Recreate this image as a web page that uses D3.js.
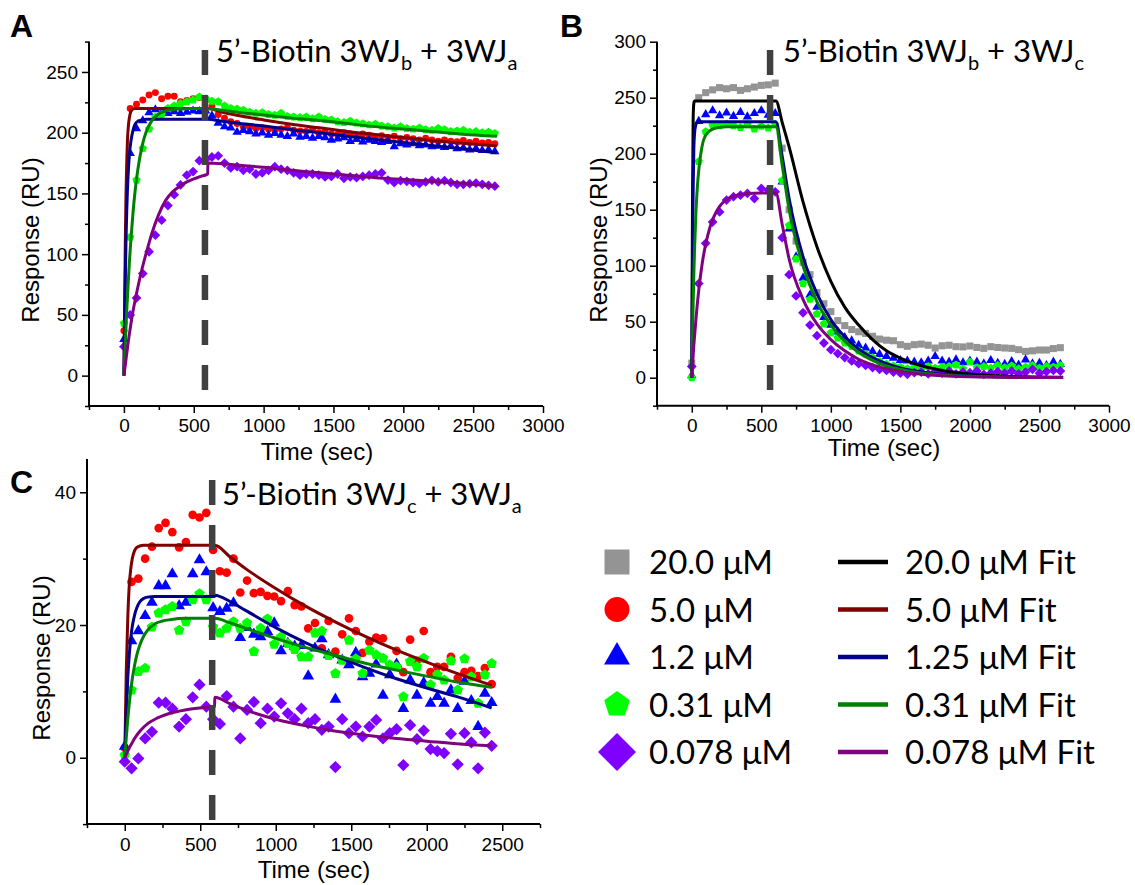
<!DOCTYPE html>
<html>
<head>
<meta charset="utf-8">
<script src="https://cdn.jsdelivr.net/npm/d3@7"></script>
<style>
  body { margin: 0; background: #fff; }
  svg { display: block; }
  text { white-space: pre; }
</style>
</head>
<body>
<script>

// ---------- data ----------

// sample times (sec)
const timeA = [0,45,90,135,180,225,270,315,360,405,450,495,540,585,630,675,720,765,810,855,900,945,990,1035,1080,1125,1170,1215,1260,1305,1350,1395,1440,1485,1530,1575,1620,1665,1710,1755,1800,1845,1890,1935,1980,2025,2070,2115,2160,2205,2250,2295,2340,2385,2430,2475,2520,2565,2610,2655]
const timeB = [0,50,100,150,200,250,300,350,400,450,500,550,600,650,700,750,800,850,900,950,1000,1050,1100,1150,1200,1250,1300,1350,1400,1450,1500,1550,1600,1650,1700,1750,1800,1850,1900,1950,2000,2050,2100,2150,2200,2250,2300,2350,2400,2450,2500,2550,2600,2650]
const timeC = [0,45,90,135,180,225,270,315,360,405,450,495,540,585,630,675,720,765,810,855,900,945,990,1035,1080,1125,1170,1215,1260,1305,1350,1395,1440,1485,1530,1575,1620,1665,1710,1755,1800,1845,1890,1935,1980,2025,2070,2115,2160,2205,2250,2295,2340,2385,2430]

// panel A responses (RU)
const redA = [37,220,223.5,227,231,233,228,230,230,225.5,226.5,228,229,226.5,222,215,212,209,207.5,205,204.5,203.5,204,203,202,203,204,202,201.5,201,202.5,200,200.5,199,198.5,200,199,198,199,198,196.5,197.5,196,197,195,196,195,194,195.5,194,193,194,193,192.5,193.5,192,193,191.5,192,191]
const blueA = [30,183,203.5,210,216.5,219,217,216,217.5,216,217,218,217.5,218,214,208,205,204,200.5,202,201,199,200,198,199.5,198,197,199,196.5,197,195.5,197,196,194,195,196,193,194.5,192.5,194,193,192,193,188.5,191,190,191,189.5,190,188.5,189,188,189,187,187.5,186,187,185.5,186,184.5]
const greenA = [43,114,161,187,203,213,215,220,222,224,225.5,227,229.5,228,226,225.5,222,220,219.5,218.5,217,216,216.5,215,214.5,216,213.5,213,212.5,213,211.5,213,211,210.5,209,208.5,209.5,208,207.5,206.5,207,205.5,205,204,205,203.5,203,204,202.5,202,203.5,202.5,201,201.5,202,200.5,201,200,200.5,199.5]
const purpleA = [23.8,50,64,84,102,115.6,128,140,149,157,165,168,177,178,180,181,175,171,172,169,170,166,167,169,172,170,169,167,165,166,166,165,163.6,164,166,162.5,163.6,163,164,165,166,167,161,159,160.5,160,159,158,159.5,160.8,159.5,160.5,159,157.5,157.5,158,158.5,157.5,156.7,156]

// panel B responses (RU)
const grayB = [13,250,254.5,257,259,258,259,256.5,258,259.5,261,261.5,263,205,150,122,103,92,76,66,59,51,46.5,43,41,39.5,37,34.5,33.5,33,29.5,28,29.5,30,29,26.5,28.5,29,27.7,27.5,28.3,27,26.2,27.7,27,26.5,26.2,25,23.5,24,24.7,24.7,26,26.8]
const blueB = [2,229,235,238.5,234,236.5,233.5,237,233,236,238.5,234.5,236,175,133,108,89,74,63,54,47,41,36,33,29,26.5,23.5,21,19,17.5,15.5,15,14,13.5,15,19,15,14,16,13.5,15,14,12.5,15.5,13,12,14.5,11.5,16,12.5,13,11,14,12]
const greenB = [0,193,219.6,225.6,225,226.5,225,223.5,226,222,224.5,223,226,176,136,106,84,70,57,48,40,35.5,31,28,24,21,18,14.5,12,10.5,9.5,8,9,7.5,10,8.5,9.5,10,11.5,8,14,9,10,8.5,11,9,10.5,8,9.5,11,8.5,10,9.5,11]
const purpleB = [10,84,120,139,148,158.6,161.6,163,164.5,160,169,167.6,166,125,92,73,58,47,37.5,31,25,21.5,18,15,12.5,11,9,7.5,6.5,5,4,3,4.5,5,3.5,5.5,4,6,3.5,5,4.5,6,3,4,5.5,4,6,3.5,5,7.5,4,5.5,6.5,6]

// panel C responses (RU)
const redC = [1.5,26.5,27,30,31.8,34.6,35.4,34,31.7,32.5,36.6,36.2,36.9,31.3,28.1,27.9,30,24.9,26.7,24.8,25,24.4,24.3,23.6,25.1,23,22.8,19.5,20.3,16.5,20.6,16,18.6,21,19.1,15.8,17.5,18.1,18,null,16.1,12.9,17.8,14.6,19.1,12.9,13.7,13.7,15.2,12,12.9,13.1,12.3,13.5,11.1]
const blueC = [1.7,17.6,19.1,21.4,23.4,25.9,25.9,27.7,22.9,23.4,27.7,29.8,28,22.6,22,22.5,23.3,18.1,19.6,18.6,18.2,19,20.3,16.1,17.2,16.8,16.9,12.3,16.5,17.9,15.5,8.8,14.7,14,15.8,12.2,12.7,14.1,9.4,12.5,14.1,7.4,11.7,9.4,11.3,8.2,9.2,8.2,10.2,7.4,11.5,8.6,4.7,9.7,8.3]
const greenC = [0.4,10.2,13,13.5,19.7,21.8,22.3,22.8,19.2,20.5,23.8,24.7,23.8,19.7,18.8,19.5,20.5,19.5,20.3,16,19.5,20.9,17.1,18.2,17.2,16.3,15.2,15.2,18.8,19.1,15.4,12.7,14.7,17.7,14.9,12.7,16.2,15.5,15,14,13.7,9.2,14.5,13.7,15,11,12.5,11.7,14.6,10.2,14.9,12.2,8.2,12.5,14.2]
const purpleC = [-0.6,-1.6,-0.1,2.9,3.9,8.3,8.3,7.4,4.7,5.8,9.1,11,7.7,5.8,5.1,9.3,7.7,2.9,7.2,8.4,5.2,7.4,6.2,8.2,6.7,5.8,7.4,5.2,5.8,4.2,4.7,-1.4,5.8,3.7,4.7,3.2,4.7,5.7,2.9,3.7,4.3,-1.1,4.9,2.8,4.1,1.3,1,0.7,3.6,-1,3.7,2.3,-1.6,3.8,1.8]

// fitted curves
const fitTimeA = [0,5,10,15,20,25,30,40,50,65,80,100,130,160,200,250,300,350,400,450,500,550,600,601,700,800,1000,1200,1400,1600,1800,2000,2200,2400,2670]
const fitRedA = [0,60,110,150,175,193,203,213,217.5,219.5,220,220,220,220,220,220,220,220,220,220,220,220,220,220,217,214.5,210.5,207,204,201,198.5,196,193.5,191.5,189]
const fitBlueA = [0,40,80,112,135,152,165,183,193,202,207,209.5,210.5,211,211,211,211,211,211,211,211,211,211,211,209.5,208,205.5,202.5,200,197,194.5,192,189.5,187,183.5]
const fitGreenA = [0,14,28,41,53,64,75,95,112,134,152,170,189,201,210,215.5,218,219,219.5,219.8,220,220,220,220,218.5,217,214.5,212,210,207.5,205,203,201,199,197]
const fitPurpleA = [0,4.5,9,13.5,18,22.5,27,35,42.5,53,62,73,88,101,117,133,144.5,151.5,156,159.5,162,164,166,175,174.5,173.5,171.5,169,167,165,163,161.5,160,158.5,156]

const fitTimeB = [0,5,10,15,20,30,40,50,65,80,100,130,160,200,250,300,400,500,605,650,700,800,900,1000,1100,1200,1300,1400,1500,1600,1800,2000,2200,2400,2670]
const fitBlackB = [0,150,232,245,247,247,247,247,247,247,247,247,247,247,247,247,247,247,247,228,206,157,117,86,63,47,34,24,17.5,12.5,6.5,3.3,1.7,0.8,0.3]
const fitBlueB = [0,100,170,205,218,226,228,228.5,228.6,228.6,228.6,228.6,228.6,228.6,228.6,228.6,228.6,228.6,228.6,198,160,108,75,52,36.5,25.5,18,12.5,8.8,6.2,3,1.5,0.8,0.4,0.2]
const fitGreenB = [0,35,66,93,115,148,170,185,200,210,216.5,220.5,222.5,223.5,224,224,224,224,224,190,150,100,68,47,32.5,22.5,15.5,10.5,7.5,5,2.4,1.2,0.6,0.3,0.1]
const fitPurpleB = [0,10,20,29,37,52,66,78,93,106,119,134,144,153,159,162,164.5,165,165,137,106,70,48,34,24,16.5,11.5,8,5.5,3.8,1.8,0.9,0.5,0.2,0.1]

const fitTimeC = [0,10,20,30,40,50,65,80,100,125,150,200,250,300,400,500,595,596,700,800,1000,1200,1400,1600,1800,2000,2200,2430]
const fitRedC = [0,13,21,26,28.5,30,31.2,31.7,31.9,32,32,32,32,32,32,32,32,32,30.2,28.5,25.5,22.8,20.4,18.2,16.2,14.4,12.7,10.9]
const fitBlueC = [0,7,12,15.5,18,19.8,21.5,22.6,23.5,24,24.2,24.3,24.3,24.3,24.3,24.3,24.3,24.5,23.5,22.2,19.6,17.3,15.3,13.5,11.9,10.5,9.2,7.5]
const fitGreenC = [0,3,5.8,8.2,10.2,11.9,13.9,15.5,17,18.3,19.2,20.2,20.6,20.8,21,21,21,21,20.3,19.5,18,16.6,15.4,14.2,13.2,12.3,11.4,10.6]
const fitPurpleC = [0,0.5,1,1.5,1.9,2.3,2.9,3.4,4,4.6,5.1,5.8,6.3,6.7,7.2,7.5,7.7,9.1,8.1,7.2,5.8,4.8,4,3.4,2.9,2.5,2.1,1.8]

// injection end (dashed line), sec
const dashA = 580
const dashB = 563
const dashC = 579

// ticks
const xTicksAB = [0,500,1000,1500,2000,2500,3000]
const xMinorAB = [-250,250,750,1250,1750,2250,2750]
const xTicksC = [0,500,1000,1500,2000,2500]
const xMinorC = [-250,250,750,1250,1750,2250,2750]
const yTicksA = [0,50,100,150,200,250]
const yMinorA = [-25,25,75,125,175,225,275]
const yTicksB = [0,50,100,150,200,250,300]
const yMinorB = [-25,25,75,125,175,225,275]
const yTicksC = [0,20,40]
const yMinorC = [-10,10,30]

// legend
const concLabels = ['20.0 μM','5.0 μM','1.2 μM','0.31 μM','0.078 μM']
const fitLabels = ['20.0 μM Fit','5.0 μM Fit','1.25 μM Fit','0.31 μM Fit','0.078 μM Fit']
const seriesKeys = ['gray','red','blue','green','purple']

// ---------- drawing ----------

const m = {
    width: 1135,
    height: 885
}

const axisFont = "'Liberation Sans', Arial, sans-serif"
const textFont = "Lato, Carlito, Calibri, sans-serif"

const symbolPentagon = {
    draw(context, size) {
        const r = Math.sqrt(size / 2.3776)
        for (let k = 0; k < 5; k++) {
            const a = -Math.PI / 2 + k * 2 * Math.PI / 5
            if (k === 0) context.moveTo(r * Math.cos(a), r * Math.sin(a))
            else context.lineTo(r * Math.cos(a), r * Math.sin(a))
        }
        context.closePath()
    }
}

const symbolRhombus = {
    draw(context, size) {
        const r = Math.sqrt(size / 2)
        context.moveTo(0, -r)
        context.lineTo(r, 0)
        context.lineTo(0, r)
        context.lineTo(-r, 0)
        context.closePath()
    }
}

const style = {
    gray:   { color: '#949494', fit: '#000000', symbol: d3.symbolSquare,   size: 50 },
    red:    { color: '#ff0000', fit: '#800000', symbol: d3.symbolCircle,   size: 38 },
    blue:   { color: '#0000ff', fit: '#00008b', symbol: d3.symbolTriangle, size: 38 },
    green:  { color: '#00ff00', fit: '#008000', symbol: symbolPentagon,    size: 46 },
    purple: { color: '#8000ff', fit: '#800080', symbol: symbolRhombus,     size: 48 }
}

const panels = [
    {
        label: 'A', labelPos: [10, 37],
        xDomain: [-250, 3000], xRange: [89, 543],
        yDomain: [-25, 275], yRange: [406, 41.6],
        xTicks: xTicksAB, xMinor: xMinorAB, yTicks: yTicksA, yMinor: yMinorA,
        time: timeA,
        data: [['red', redA], ['blue', blueA], ['green', greenA], ['purple', purpleA]],
        fitTime: fitTimeA,
        fits: [['red', fitRedA], ['blue', fitBlueA], ['green', fitGreenA], ['purple', fitPurpleA]],
        dash: dashA, dashY: [50, 395],
        sub: ['b', 'a'], titlePos: [216, 62],
        xTitle: [317, 460], yTitle: [30, 240],
        markerScale: 1
    },
    {
        label: 'B', labelPos: [560, 37],
        xDomain: [-250, 3000], xRange: [657, 1109],
        yDomain: [-25, 300], yRange: [405.7, 41.7],
        xTicks: xTicksAB, xMinor: xMinorAB, yTicks: yTicksB, yMinor: yMinorB,
        time: timeB,
        data: [['gray', grayB], ['blue', blueB], ['green', greenB], ['purple', purpleB]],
        fitTime: fitTimeB,
        fits: [['gray', fitBlackB], ['blue', fitBlueB], ['green', fitGreenB], ['purple', fitPurpleB]],
        dash: dashB, dashY: [50, 395],
        sub: ['b', 'c'], titlePos: [783, 62],
        xTitle: [884, 456], yTitle: [598, 240],
        markerScale: 1
    },
    {
        label: 'C', labelPos: [10, 493],
        xDomain: [-250, 2750], xRange: [87, 540],
        yDomain: [-10, 45], yRange: [824.1, 459.1],
        xTicks: xTicksC, xMinor: xMinorC, yTicks: yTicksC, yMinor: yMinorC,
        time: timeC,
        data: [['red', redC], ['blue', blueC], ['green', greenC], ['purple', purpleC]],
        fitTime: fitTimeC,
        fits: [['red', fitRedC], ['blue', fitBlueC], ['green', fitGreenC], ['purple', fitPurpleC]],
        dash: dashC, dashY: [480, 824],
        sub: ['c', 'a'], titlePos: [222, 505],
        xTitle: [314, 878], yTitle: [41, 658],
        markerScale: 1.25
    }
]

const svg = d3.select('body').append('svg')
    .attr('width', m.width)
    .attr('height', m.height)

svg.append('rect').attr('width', m.width).attr('height', m.height).attr('fill', '#fff')

function styleAxis(sel) {
    sel.selectAll('line').attr('stroke', '#000').attr('stroke-width', 1.5)
    sel.selectAll('text')
        .attr('fill', '#000')
        .style('font-family', axisFont)
        .style('font-size', '19px')
}

panels.forEach(function(p) {
    const x = d3.scaleLinear().domain(p.xDomain).range(p.xRange)
    const y = d3.scaleLinear().domain(p.yDomain).range(p.yRange)
    const g = svg.append('g')

    // minor ticks
    g.append('g')
        .attr('transform', `translate(0,${p.yRange[0]})`)
        .call(d3.axisBottom(x).tickValues(p.xMinor).tickFormat('').tickSize(4).tickSizeOuter(0))
        .call(s => s.select('.domain').remove())
        .call(styleAxis)
    g.append('g')
        .attr('transform', `translate(${p.xRange[0]},0)`)
        .call(d3.axisLeft(y).tickValues(p.yMinor).tickFormat('').tickSize(4).tickSizeOuter(0))
        .call(s => s.select('.domain').remove())
        .call(styleAxis)

    // major ticks + labels
    g.append('g')
        .attr('transform', `translate(0,${p.yRange[0]})`)
        .call(d3.axisBottom(x).tickValues(p.xTicks).tickFormat(d3.format('d')).tickSize(7).tickPadding(6).tickSizeOuter(0))
        .call(s => s.select('.domain').remove())
        .call(styleAxis)
    g.append('g')
        .attr('transform', `translate(${p.xRange[0]},0)`)
        .call(d3.axisLeft(y).tickValues(p.yTicks).tickFormat(d3.format('d')).tickSize(7).tickPadding(4).tickSizeOuter(0))
        .call(s => s.select('.domain').remove())
        .call(styleAxis)

    // axis lines
    g.append('line')
        .attr('x1', p.xRange[0]).attr('x2', p.xRange[1])
        .attr('y1', p.yRange[0]).attr('y2', p.yRange[0])
        .attr('stroke', '#000').attr('stroke-width', 2)
    g.append('line')
        .attr('x1', p.xRange[0]).attr('x2', p.xRange[0])
        .attr('y1', p.yRange[0] + 1).attr('y2', p.yRange[1])
        .attr('stroke', '#000').attr('stroke-width', 2)

    // data points
    p.data.forEach(function([key, vals]) {
        const st = style[key]
        const pts = p.time.map((t, i) => ({ t: t, v: vals[i] })).filter(d => d.v != null)
        g.append('g').selectAll('path')
            .data(pts)
            .enter()
            .append('path')
                .attr('d', d3.symbol().type(st.symbol).size(st.size * p.markerScale * p.markerScale))
                .attr('transform', d => `translate(${x(d.t)},${y(d.v)})`)
                .attr('fill', st.color)
    })

    // fits
    const line = d3.line()
        .x((d, i) => x(p.fitTime[i]))
        .y(d => y(d))
        .curve(d3.curveMonotoneX)
    p.fits.forEach(function([key, vals]) {
        g.append('path')
            .attr('d', line(vals))
            .attr('fill', 'none')
            .attr('stroke', style[key].fit)
            .attr('stroke-width', 3)
    })

    // injection end
    g.append('line')
        .attr('x1', x(p.dash)).attr('x2', x(p.dash))
        .attr('y1', p.dashY[0]).attr('y2', p.dashY[1])
        .attr('stroke', '#404040')
        .attr('stroke-width', 6.5)
        .attr('stroke-dasharray', '25,20')

    // titles
    const t = g.append('text')
        .attr('x', p.titlePos[0]).attr('y', p.titlePos[1])
        .style('font-family', textFont)
        .style('font-size', '31px')
        .attr('fill', '#000')
    t.append('tspan').text('5’-Biotin 3WJ')
    t.append('tspan').text(p.sub[0]).attr('dy', 8).style('font-size', '20px')
    t.append('tspan').text(' + 3WJ').attr('dy', -8)
    t.append('tspan').text(p.sub[1]).attr('dy', 8).style('font-size', '20px')

    g.append('text')
        .attr('x', p.labelPos[0]).attr('y', p.labelPos[1])
        .style('font-family', axisFont)
        .style('font-size', '32px')
        .style('font-weight', 'bold')
        .text(p.label)

    g.append('text')
        .attr('x', p.xTitle[0]).attr('y', p.xTitle[1])
        .attr('text-anchor', 'middle')
        .style('font-family', axisFont)
        .style('font-size', '24px')
        .text('Time (sec)')

    g.append('text')
        .attr('transform', `translate(${p.yTitle[0]},${p.yTitle[1]}) rotate(-90)`)
        .attr('text-anchor', 'middle')
        .attr('dominant-baseline', 'central')
        .style('font-family', axisFont)
        .style('font-size', '24px')
        .text('Response (RU)')
})

// legend
const lg = svg.append('g')
const legendSize = { gray: 625, red: 490, blue: 290, green: 430, purple: 720 }
seriesKeys.forEach(function(key, i) {
    const yy = 562 + i * 47.5
    lg.append('path')
        .attr('d', d3.symbol().type(style[key].symbol).size(legendSize[key]))
        .attr('transform', `translate(617,${yy})`)
        .attr('fill', style[key].color)
    lg.append('text')
        .attr('x', 649).attr('y', yy + 12)
        .style('font-family', textFont)
        .style('font-size', '33px')
        .text(concLabels[i])
    lg.append('line')
        .attr('x1', 838).attr('x2', 888)
        .attr('y1', yy).attr('y2', yy)
        .attr('stroke', style[key].fit)
        .attr('stroke-width', 4.5)
    lg.append('text')
        .attr('x', 905).attr('y', yy + 12)
        .style('font-family', textFont)
        .style('font-size', '33px')
        .text(fitLabels[i])
})

</script>
</body>
</html>
